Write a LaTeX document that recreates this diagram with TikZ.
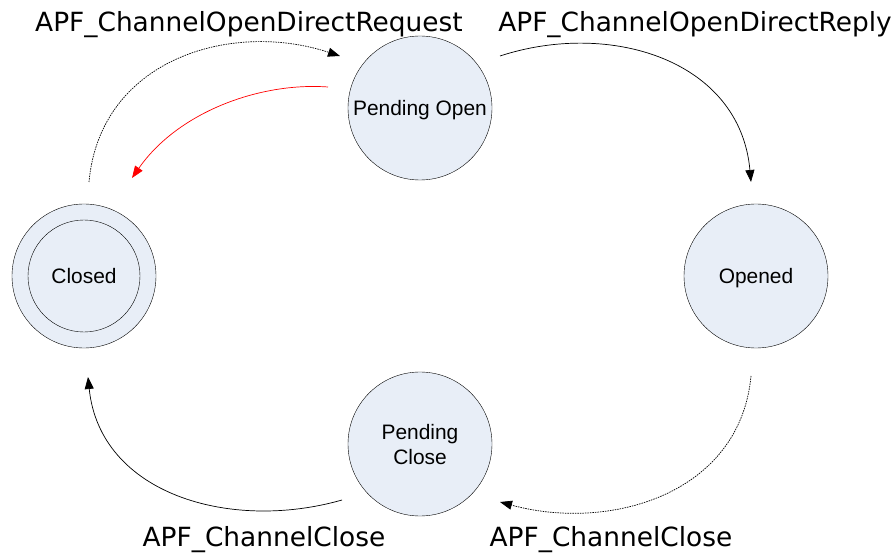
\documentclass[tikz,border=0pt]{standalone}
\usepackage{fontspec}
\newfontfamily\lblfont{DejaVu Sans}
\newfontfamily\stfont{Liberation Sans}
\usetikzlibrary{arrows.meta}
\definecolor{stfill}{RGB}{232,238,247}
\tikzset{
  state/.style={circle,draw,fill=stfill,minimum size=144bp,inner sep=0pt,align=center,
    text depth=0pt,font=\stfont\fontsize{21}{25}\selectfont},
  msg/.style={anchor=base,font=\lblfont\fontsize{26.5}{30}\selectfont},
  tr/.style={-{Triangle[length=12bp,width=9bp]},line width=0.7bp},
  trdot/.style={tr,dash pattern=on 1.5bp off 1bp},
}
\begin{document}
\begin{tikzpicture}[x=1bp,y=-1bp]
\useasboundingbox (0,0) rectangle (895,554);
% states
\node[state] (PO) at (420,108){Pending Open};
\node[state] (OP) at (756,276){Opened};
\node[state] (PC) at (420,444){Pending\\Close};
\node[state] (CL) at (84,276){};
\node[state,minimum size=112bp] (CLin) at (CL){Closed};
% arrow ends
\coordinate (reqA) at (89,182); \coordinate (reqB) at (340,56);
\coordinate (repA) at (500,56); \coordinate (repB) at (751,182);
\coordinate (rejA) at (328,87); \coordinate (rejB) at (132,178);
\coordinate (clsA) at (751,376); \coordinate (clsB) at (500,502);
\coordinate (cldA) at (342,500); \coordinate (cldB) at (88,377);
% transitions
\draw[trdot] (reqA) .. controls (100,60) and (230,20) .. (reqB);
\draw[tr] (repA) .. controls (610,20) and (740,60) .. (repB);
\draw[tr,red] (rejA) .. controls (260,82) and (178,112) .. (rejB);
\draw[trdot] (clsA) .. controls (740,494) and (610,532) .. (clsB);
\draw[tr] (cldA) .. controls (230,532) and (100,494) .. (cldB);
% labels
\node[msg] (lreq) at (249,32){APF\_ChannelOpenDirectRequest};
\node[msg] (lrep) at (695,32){APF\_ChannelOpenDirectReply};
\node[msg] (lcl1) at (264,546){APF\_ChannelClose};
\node[msg] (lcl2) at (611,546){APF\_ChannelClose};
\end{tikzpicture}
\end{document}
